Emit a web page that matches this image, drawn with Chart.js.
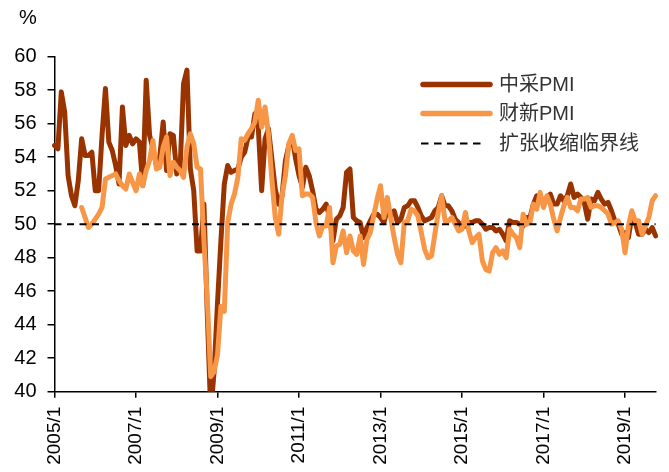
<!DOCTYPE html>
<html>
<head>
<meta charset="utf-8">
<script src="https://cdn.jsdelivr.net/npm/chart.js@4/dist/chart.umd.min.js"></script>
<style>
html,body{margin:0;padding:0;background:#ffffff;}
#wrap{width:669px;height:472px;position:relative;}
</style>
</head>
<body>
<div id="wrap"><canvas id="c" width="669" height="472"></canvas></div>
<script>
// ---------- DATA ----------
const START_YEAR = 2005;
const END_YEAR = 2019;
const END_MONTH = 10;
const categories = [];
for (let y = START_YEAR; y <= END_YEAR; y++) {
  for (let m = 1; m <= 12; m++) {
    if (y === END_YEAR && m > END_MONTH) break;
    categories.push(y + '/' + m);
  }
}
const tickLabels = ['2005/1','2007/1','2009/1','2011/1','2013/1','2015/1','2017/1','2019/1'];

// 中采PMI (2005/1 - 2019/10)
const nbsPMI = [
  54.7,54.5,57.9,56.7,52.9,51.7,51.1,52.6,55.1,54.1,54.1,54.3,
  52.0,52.0,55.3,58.1,54.9,54.4,53.5,52.4,57.0,54.7,55.3,54.8,
  55.1,54.9,52.3,58.6,55.3,54.5,53.5,54.0,56.1,53.2,55.4,55.3,
  53.0,53.4,58.4,59.2,53.3,52.0,48.4,48.4,51.2,44.6,38.8,41.2,
  45.3,49.0,52.4,53.5,53.1,53.2,53.3,54.0,54.3,55.2,55.2,56.6,
  55.8,52.0,55.1,55.7,53.9,52.1,51.2,51.7,53.8,54.7,55.2,53.9,
  52.9,52.2,53.4,52.9,52.0,50.9,50.7,50.9,51.2,50.4,49.0,50.3,
  50.5,51.0,53.1,53.3,50.4,50.2,50.1,49.2,49.8,50.2,50.6,50.6,
  50.4,50.1,50.9,50.6,50.8,50.1,50.3,51.0,51.1,51.4,51.4,51.0,
  50.5,50.2,50.3,50.4,50.8,51.0,51.7,51.1,51.1,50.8,50.3,50.1,
  49.8,49.9,50.1,50.1,50.2,50.2,50.0,49.7,49.8,49.8,49.6,49.7,
  49.4,49.0,50.2,50.1,50.1,50.0,49.9,50.4,50.4,51.2,51.7,51.4,
  51.3,51.6,51.8,51.2,51.2,51.7,51.4,51.7,52.4,51.6,51.8,51.6,
  51.3,50.3,51.5,51.4,51.9,51.5,51.2,51.3,50.8,50.2,50.0,49.4,
  49.5,49.2,50.5,50.1,49.4,49.4,49.7,49.5,49.8,49.3
];

// 财新PMI (2005/1 - 2019/10, missing before 2005/9)
const caixinPMI = [
  null,null,null,null,null,null,null,null,51.0,50.4,49.8,50.0,
  50.3,50.6,51.0,52.7,52.8,52.9,53.0,52.6,52.3,52.1,53.0,52.5,
  52.0,53.0,52.3,53.2,53.8,55.0,53.3,53.4,54.6,55.2,52.9,53.7,
  53.4,53.2,52.8,54.6,55.4,54.8,53.4,53.3,49.0,45.5,40.9,41.2,
  42.2,45.1,44.8,50.1,51.2,51.8,52.8,55.1,55.0,55.4,55.7,56.1,
  57.4,55.8,57.0,55.4,52.7,50.4,49.4,51.7,52.9,54.8,55.3,54.4,
  54.5,51.7,51.8,51.8,51.6,50.1,49.3,49.9,49.9,51.0,47.7,48.7,
  48.8,49.6,48.3,49.3,48.4,48.2,49.3,47.6,49.1,49.5,50.5,51.5,
  52.3,50.4,51.6,50.4,49.2,48.2,47.7,50.1,50.2,50.9,50.8,50.5,
  49.5,48.5,48.0,48.1,49.4,50.7,51.7,50.2,50.2,50.4,50.0,49.6,
  49.7,50.7,49.6,48.9,49.2,49.4,47.8,47.3,47.2,48.3,48.6,48.2,
  48.4,48.0,49.7,49.4,49.2,48.6,50.6,50.0,50.1,51.2,50.9,51.9,
  51.0,51.7,51.2,50.3,49.6,50.4,51.1,51.6,51.0,51.0,50.8,51.5,
  51.5,51.6,51.0,51.1,51.1,51.0,50.8,50.6,50.0,50.1,50.2,49.7,
  48.3,49.9,50.8,50.2,50.2,49.4,49.9,50.4,51.4,51.7
];

const THRESHOLD = 50;
const seriesNames = ['中采PMI', '财新PMI', '扩张收缩临界线'];

// ---------- STYLE ----------
const BROWN = '#993300';
const ORANGE = '#F79646';
const LATIN = '"Liberation Sans", Arial, sans-serif';
const MIXED = '"Liberation Sans", "Noto Sans CJK SC", sans-serif';

const CHART_LEFT = 54.5;
const AXIS_Y = 391.7;

const thresholdPlugin = {
  id: 'threshold',
  afterDatasetsDraw(chart) {
    const {ctx, chartArea, scales} = chart;
    const y = scales.y.getPixelForValue(THRESHOLD);
    ctx.save();
    ctx.strokeStyle = '#000';
    ctx.lineWidth = 2;
    ctx.setLineDash([7, 5.5]);
    ctx.beginPath();
    ctx.moveTo(chartArea.left, y);
    ctx.lineTo(chartArea.right, y);
    ctx.stroke();
    ctx.restore();
  }
};

const extrasPlugin = {
  id: 'extras',
  afterDraw(chart) {
    const ctx = chart.ctx;
    ctx.save();
    // unit
    ctx.fillStyle = '#000';
    ctx.font = '20px ' + LATIN;
    ctx.textAlign = 'left';
    ctx.textBaseline = 'middle';
    ctx.fillText('%', 19, 18);
    // legend
    const rows = [
      {y: 84.5, color: BROWN, dash: null, w: 5.5, x2: 490},
      {y: 113.5, color: ORANGE, dash: null, w: 5.5, x2: 490},
      {y: 143.5, color: '#000', dash: [7.5, 5.5], w: 2, x2: 483}
    ];
    rows.forEach((r, i) => {
      ctx.beginPath();
      ctx.strokeStyle = r.color;
      ctx.lineWidth = r.w;
      ctx.lineCap = r.dash ? 'butt' : 'round';
      ctx.setLineDash(r.dash || []);
      ctx.moveTo(r.dash ? 421 : 423, r.y);
      ctx.lineTo(r.x2, r.y);
      ctx.stroke();
      ctx.setLineDash([]);
      ctx.fillStyle = '#333';
      ctx.font = '20px ' + MIXED;
      ctx.textAlign = 'left';
      ctx.textBaseline = 'middle';
      ctx.fillText(seriesNames[i], 499, r.y + 1);
    });
    ctx.restore();
  }
};

new Chart(document.getElementById('c'), {
  type: 'line',
  data: {
    labels: categories,
    datasets: [
      {
        label: seriesNames[0],
        data: nbsPMI,
        borderColor: BROWN,
        backgroundColor: BROWN,
        borderWidth: 5,
        pointRadius: 0,
        tension: 0,
        order: 2
      },
      {
        label: seriesNames[1],
        data: caixinPMI,
        borderColor: ORANGE,
        backgroundColor: ORANGE,
        borderWidth: 5,
        pointRadius: 0,
        tension: 0,
        spanGaps: false,
        order: 1
      }
    ]
  },
  options: {
    responsive: false,
    animation: false,
    devicePixelRatio: 1,
    layout: {padding: {left: 0, right: 13.4, top: 56.7, bottom: 0}},
    plugins: {legend: {display: false}, tooltip: {enabled: false}},
    elements: {line: {borderJoinStyle: 'round', borderCapStyle: 'round'}},
    scales: {
      x: {
        type: 'category',
        offset: false,
        border: {color: '#000', width: 1.5},
        grid: {drawOnChartArea: false, color: '#000', lineWidth: 1.5, tickLength: 6},
        ticks: {
          autoSkip: false,
          maxRotation: 90,
          minRotation: 90,
          padding: 9,
          color: '#000',
          font: {family: LATIN, size: 19},
          callback: function(value) {
            const lab = this.getLabelForValue(value);
            return tickLabels.includes(lab) ? lab : null;
          }
        },
        afterFit(scale) { scale.height = 472 - AXIS_Y; }
      },
      y: {
        min: 40,
        max: 60,
        border: {color: '#000', width: 1.5},
        grid: {drawOnChartArea: false, color: '#000', lineWidth: 1.5, tickLength: 7},
        ticks: {
          stepSize: 2,
          padding: 11,
          color: '#000',
          font: {family: LATIN, size: 20}
        },
        afterFit(scale) { scale.width = CHART_LEFT; }
      }
    }
  },
  plugins: [thresholdPlugin, extrasPlugin]
});
</script>
</body>
</html>
